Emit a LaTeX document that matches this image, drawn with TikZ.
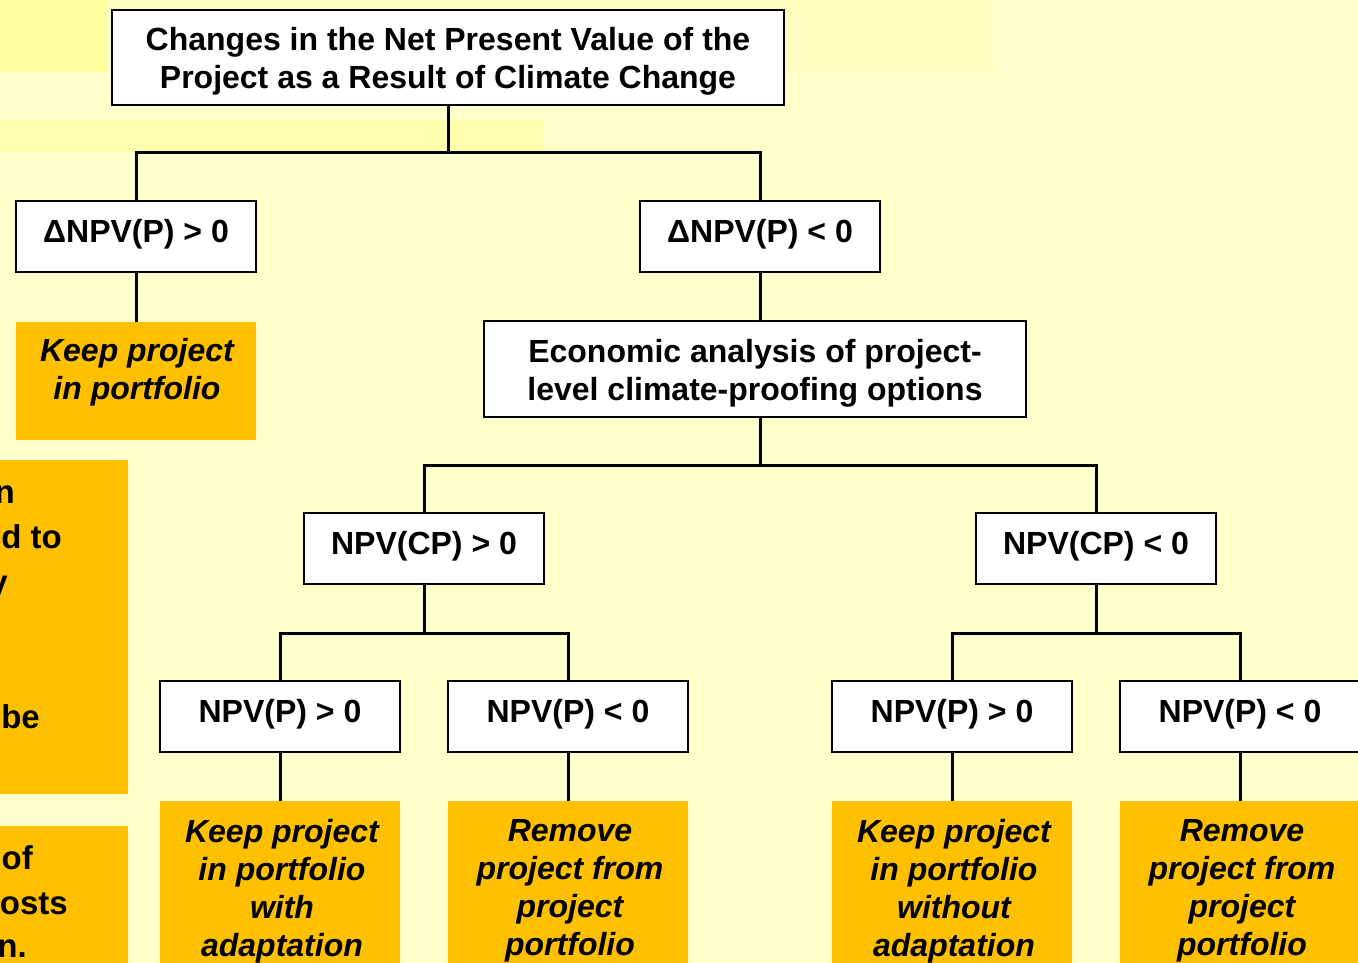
\documentclass[tikz,border=0pt]{standalone}
\usepackage{fontspec}
\setmainfont{Liberation Sans}
\definecolor{bg}{HTML}{FFFFCC}
\definecolor{bgband}{HTML}{FFFFB0}
\definecolor{bgtop}{HTML}{FFFFC2}
\definecolor{bgcorner}{HTML}{FFFFA0}
\definecolor{org}{HTML}{FFC000}
\newcommand{\topstrut}{\rule{0pt}{31pt}}
\begin{document}
\begin{tikzpicture}[x=1pt,y=-1pt,
  wbox/.style={draw=black, line width=2.5pt, fill=white, inner sep=0pt,
    minimum width=240pt, minimum height=71pt, align=center,
    font=\fontsize{32}{38}\selectfont\bfseries},
  onebox/.style={wbox, text height=23pt, text depth=12pt},
  obox/.style={fill=org, inner sep=0pt},
  otext/.style={align=center, inner sep=0pt,
    font=\fontsize{32}{38}\selectfont\bfseries\itshape},
  ltext/.style={anchor=base east, inner sep=0pt,
    font=\fontsize{33}{45}\selectfont\bfseries},
  conn/.style={draw=black, line width=3pt}]
\useasboundingbox (0,0) rectangle (1358,963);
% background
\fill[bg] (0,0) rectangle (1358,963);
\fill[bgtop] (105,0) rectangle (995,72);
\fill[bgcorner] (0,0) rectangle (105,72);
\fill[bgband] (0,120) rectangle (543,152);

% left partial orange boxes
\node[obox, minimum width=148pt, minimum height=334pt] (lb1) at (54,627) {};
\node[obox, minimum width=148pt, minimum height=180pt] (lb2) at (54,916) {};
\node[ltext] (l1) at (15,503) {n};
\node[ltext] (l2) at (62,548) {d to};
\node[ltext] (l3) at (8,593) {y};
\node[ltext] (l4) at (40,728) {be};
\node[ltext] (l5) at (33,869) {of};
\node[ltext] (l6) at (68,914) {osts};
\node[ltext] (l7) at (27,957) {n.};

% top box
\node[wbox, minimum width=672pt, minimum height=95pt] (top) at (448,57.5)
  {\topstrut Changes in the Net Present Value of the\\Project as a Result of Climate Change};

% level 1
\node[onebox] (d1) at (136,236.5) {ΔNPV(P) > 0};
\node[onebox] (d2) at (760,236.5) {ΔNPV(P) < 0};

% keep project (top left)
\node[obox, minimum width=240pt, minimum height=118pt] (k1) at (136,381) {};
\node[otext] (k1t) at (137,372) {Keep project\\in portfolio};

% economic analysis
\node[wbox, minimum width=542pt, minimum height=96pt] (econ) at (755,369)
  {\topstrut Economic analysis of project-\\level climate-proofing options};

% level 2
\node[onebox] (c1) at (424,548.5) {NPV(CP) > 0};
\node[onebox] (c2) at (1096,548.5) {NPV(CP) < 0};

% level 3
\node[onebox] (p1) at (280,716.5) {NPV(P) > 0};
\node[onebox] (p2) at (568,716.5) {NPV(P) < 0};
\node[onebox] (p3) at (952,716.5) {NPV(P) > 0};
\node[onebox] (p4) at (1240,716.5) {NPV(P) < 0};

% outcome boxes
\node[obox, minimum width=240pt, minimum height=200pt] (o1) at (280,901) {};
\node[obox, minimum width=240pt, minimum height=200pt] (o2) at (568,901) {};
\node[obox, minimum width=240pt, minimum height=200pt] (o3) at (952,901) {};
\node[obox, minimum width=240pt, minimum height=200pt] (o4) at (1240,901) {};
\node[otext] (o1t) at (282,891) {Keep project\\in portfolio\\with\\adaptation};
\node[otext] (o2t) at (570,891) {Remove\\project from\\project\\portfolio};
\node[otext] (o3t) at (954,891) {Keep project\\in portfolio\\without\\adaptation};
\node[otext] (o4t) at (1242,891) {Remove\\project from\\project\\portfolio};

% connectors
\coordinate (j1) at (448,153);
\draw[conn] (top.south) -- (j1);
\draw[conn] (d1.north) |- (j1) -| (d2.north);
\draw[conn] (d1.south) -- (k1.north);
\draw[conn] (d2.south) -- (d2.south |- econ.north);

\coordinate (j2) at (760,465);
\draw[conn] (econ.south -| j2) -- (j2);
\draw[conn] (c1.north) |- (j2) -| (c2.north);

\coordinate (j3) at (424,633);
\draw[conn] (c1.south) -- (j3);
\draw[conn] (p1.north) |- (j3) -| (p2.north);

\coordinate (j4) at (1096,633);
\draw[conn] (c2.south) -- (j4);
\draw[conn] (p3.north) |- (j4) -| (p4.north);

\draw[conn] (p1.south) -- (o1.north);
\draw[conn] (p2.south) -- (o2.north);
\draw[conn] (p3.south) -- (o3.north);
\draw[conn] (p4.south) -- (o4.north);
\end{tikzpicture}
\end{document}
